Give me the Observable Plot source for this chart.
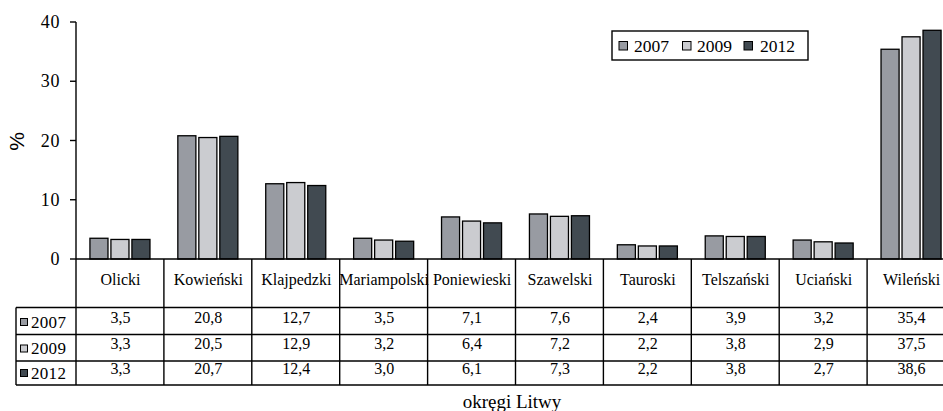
<!DOCTYPE html>
<html><head><meta charset="utf-8">
<script src="https://cdn.jsdelivr.net/npm/d3@7"></script>
<script src="https://cdn.jsdelivr.net/npm/@observablehq/plot@0.6"></script>
<style>
html,body{margin:0;padding:0;background:#fff;overflow:hidden;}
#chart{position:relative;width:943px;height:411px;overflow:hidden;}
#chart svg{position:absolute;left:0;top:0;overflow:visible;max-width:none !important;width:955px;height:411px;}
</style></head><body><div id="chart"></div>
<script>
const categories = ["Olicki","Kowieński","Klajpedzki","Mariampolski","Poniewieski","Szawelski","Tauroski","Telszański","Uciański","Wileński"];
const years = ["2007","2009","2012"];
const values2007 = [3.5,20.8,12.7,3.5,7.1,7.6,2.4,3.9,3.2,35.4];
const values2009 = [3.3,20.5,12.9,3.2,6.4,7.2,2.2,3.8,2.9,37.5];
const values2012 = [3.3,20.7,12.4,3.0,6.1,7.3,2.2,3.8,2.7,38.6];
const yTicks = [0,10,20,30,40];
const colors = ["#989ba2","#cbccd0","#414a51"];
const xTitle = "okręgi Litwy";
const yTitle = "%";

const seriesValues = [values2007, values2009, values2012];
const rows = years.flatMap((yr, i) => categories.map((c, j) => ({category: c, year: yr, value: seriesValues[i][j]})));
const fmt = v => d3.format(".1f")(v).replace(".", ",");
const font = "Liberation Serif, Times New Roman, serif";

// layout (pixels)
const rowCenters = [63, 89.5, 114]; // offsets below frame bottom
const rowLines = [48.5, 75.5, 102, 126]; // offsets below frame bottom
const headerCenter = 25.5;
const labelLeft = 16;

const plot = Plot.plot({
  width: 955, height: 411,
  marginLeft: 76, marginRight: 0, marginTop: 22, marginBottom: 152,
  style: {fontFamily: font, fontSize: "16px", background: "transparent", color: "#000", overflow: "visible", maxWidth: "none"},
  fx: {domain: categories, paddingInner: 0.317, paddingOuter: 0.1585, round: false, axis: null, label: null},
  x: {domain: years, paddingInner: 0.14, paddingOuter: 0, round: false, axis: null, label: null},
  y: {domain: [0, 40], axis: null, label: null},
  color: {domain: years, range: colors},
  marks: [
    Plot.barY(rows, {fx: "category", x: "year", y: "value", fill: "year", stroke: "#000", strokeWidth: 1.3}),
    Plot.text(categories, {fx: d => d, text: d => d, frameAnchor: "bottom", dy: headerCenter, fontSize: 16, fontFamily: font, fill: "#000"}),
    ...years.map((yr, i) => Plot.text(rows.filter(r => r.year === yr), {fx: "category", text: d => fmt(d.value), frameAnchor: "bottom", dy: rowCenters[i], fontSize: 16, fontFamily: font, fill: "#000"}))
  ]
});
plot.style.maxWidth = "none";
plot.setAttribute("font-family", font);

const svg = d3.select(plot);
const fx = plot.scale("fx");
const ys = plot.scale("y");
const cs = plot.scale("color");
const bw = fx.bandwidth;
const step = fx.step ?? (fx.apply(categories[1]) - fx.apply(categories[0]));
const colLeft = c => fx.apply(c) - (step - bw) / 2;
const x0 = colLeft(categories[0]);
const x1 = colLeft(categories[categories.length - 1]) + step;
const yb = ys.apply(0);
const g = svg.append("g").attr("stroke", "#000").attr("stroke-width", 1.4).attr("fill", "none");
const T = (sel) => sel.append("text").attr("font-family", font).attr("fill", "#000");

// y axis
g.append("line").attr("x1", x0).attr("x2", x0).attr("y1", ys.apply(40)).attr("y2", yb);
yTicks.forEach(t => {
  g.append("line").attr("x1", x0 - 6).attr("x2", x0).attr("y1", ys.apply(t)).attr("y2", ys.apply(t));
  T(svg).attr("x", x0 - 16).attr("y", ys.apply(t)).attr("dy", "0.34em")
    .attr("text-anchor", "end").attr("font-size", 18).attr("letter-spacing", 0.6).text(t);
});
T(svg).attr("transform", `translate(24,${ys.apply(20) + 1}) rotate(-90)`)
  .attr("text-anchor", "middle").attr("font-family", "Liberation Sans, Arial, sans-serif").attr("font-size", 21).text(yTitle);

// table grid
g.append("line").attr("x1", x0).attr("x2", x1).attr("y1", yb).attr("y2", yb);
rowLines.forEach(o => g.append("line").attr("x1", labelLeft).attr("x2", x1).attr("y1", yb + o).attr("y2", yb + o));
categories.forEach(c => g.append("line").attr("x1", colLeft(c)).attr("x2", colLeft(c)).attr("y1", yb).attr("y2", yb + rowLines[3]));
g.append("line").attr("x1", x1).attr("x2", x1).attr("y1", yb).attr("y2", yb + rowLines[3]);
g.append("line").attr("x1", labelLeft).attr("x2", labelLeft).attr("y1", yb + rowLines[0]).attr("y2", yb + rowLines[3]);

// row labels
years.forEach((yr, i) => {
  const cy = yb + rowCenters[i];
  svg.append("rect").attr("x", 20.5).attr("y", cy - 3.5).attr("width", 7).attr("height", 7)
    .attr("fill", cs.apply(yr)).attr("stroke", "#000").attr("stroke-width", 1);
  T(svg).attr("x", 31).attr("y", cy).attr("dy", "0.34em").attr("text-anchor", "start")
    .attr("font-size", 17).attr("letter-spacing", 0.3).text(yr);
});

// x title
T(svg).attr("x", 512).attr("y", 408).attr("text-anchor", "middle").attr("font-size", 19).text(xTitle);

// legend
const lg = svg.append("g");
lg.append("rect").attr("x", 612).attr("y", 31).attr("width", 196).attr("height", 29)
  .attr("fill", "#fff").attr("stroke", "#000").attr("stroke-width", 1.4);
const swX = [619, 682.5, 744], txX = [634, 697, 760];
years.forEach((yr, i) => {
  lg.append("rect").attr("x", swX[i]).attr("y", 41.5).attr("width", 8.5).attr("height", 8.5)
    .attr("fill", cs.apply(yr)).attr("stroke", "#000").attr("stroke-width", 1);
  T(lg).attr("x", txX[i]).attr("y", 46.5).attr("dy", "0.34em").attr("text-anchor", "start")
    .attr("font-size", 17.5).text(yr);
});

document.getElementById("chart").appendChild(plot);
</script></body></html>
